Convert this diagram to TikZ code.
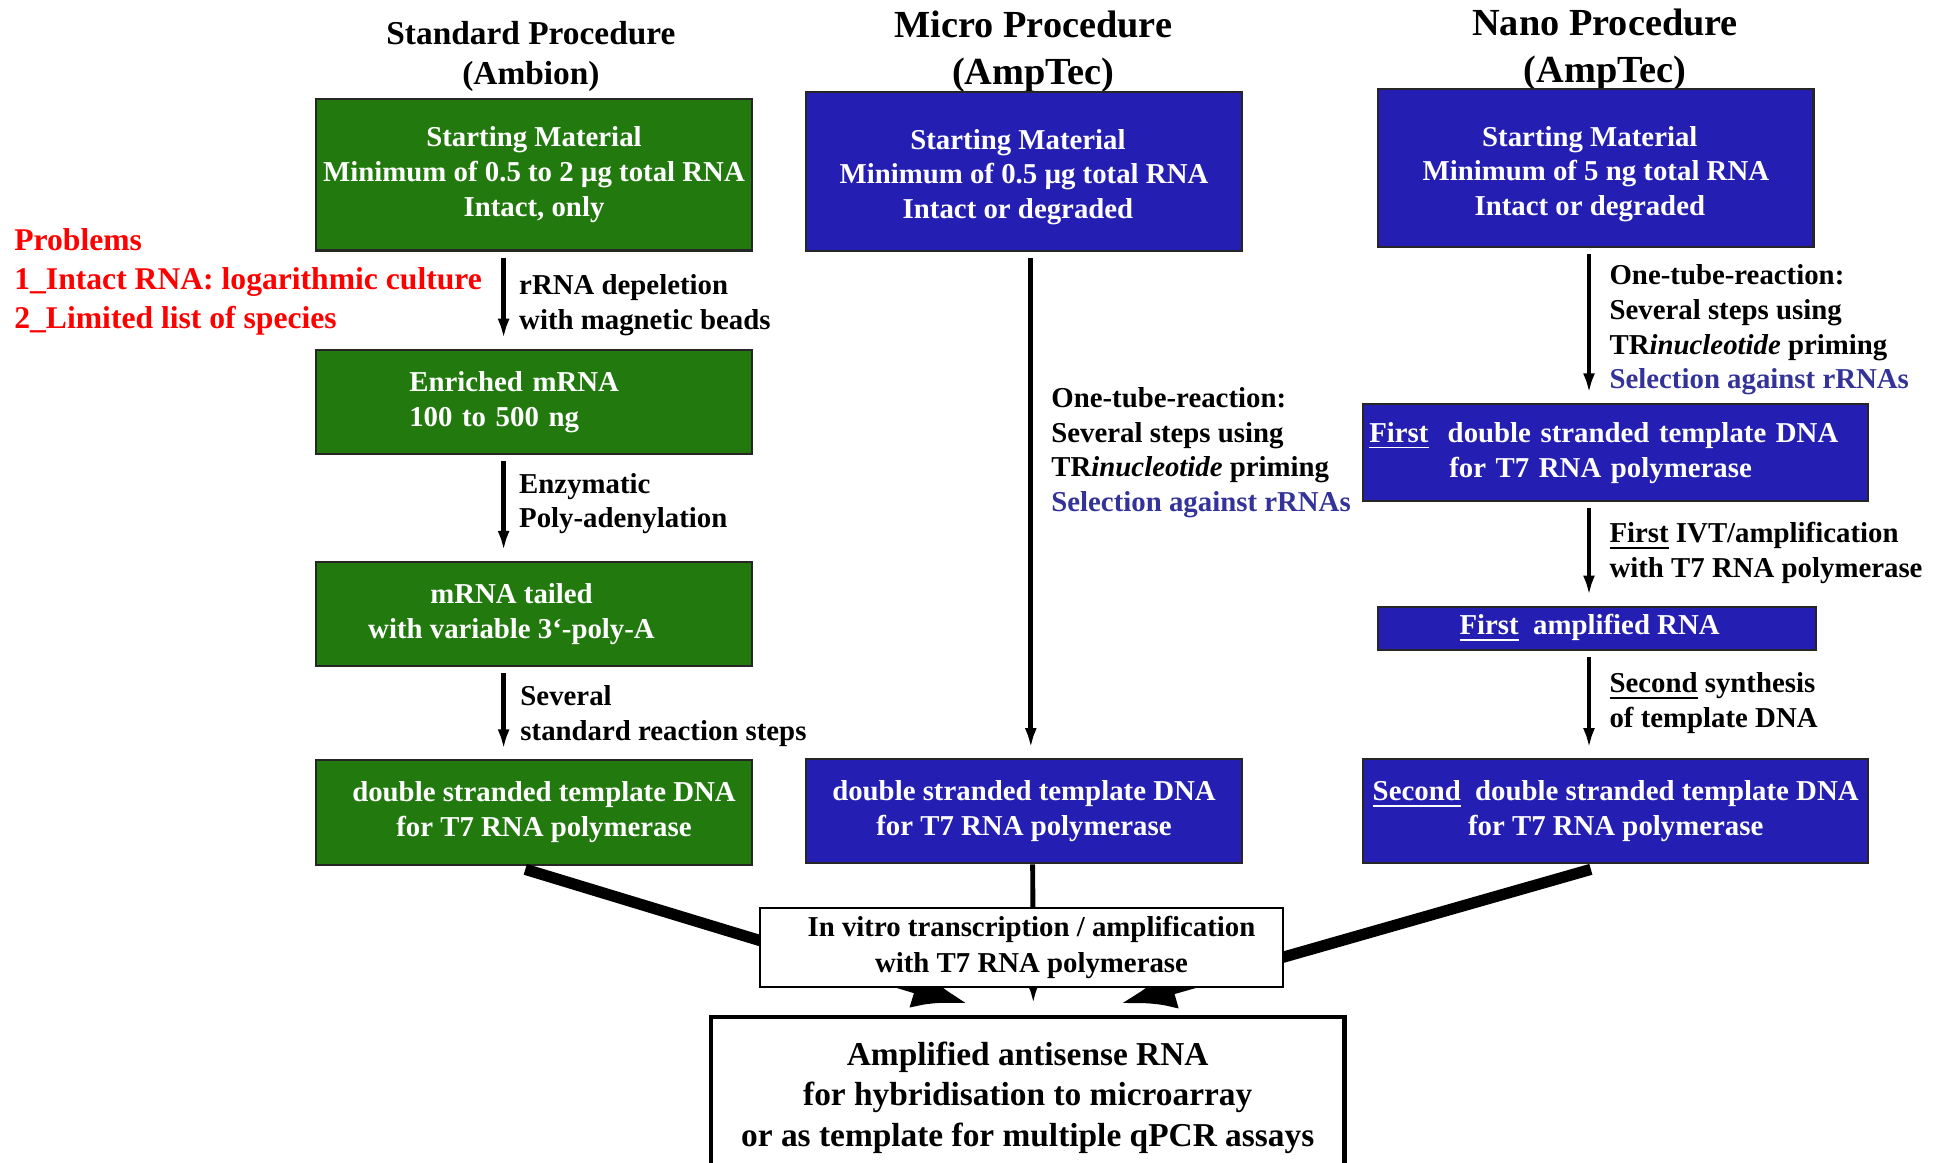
\documentclass[tikz,border=0pt]{standalone}
\usepackage{fontspec}
\setmainfont{Liberation Serif}
\usetikzlibrary{arrows.meta,calc}
\definecolor{stdgreen}{RGB}{34,122,14}
\definecolor{ampblue}{RGB}{36,30,178}
\definecolor{selblue}{RGB}{51,51,153}

\begin{document}
\begin{tikzpicture}
  [x=0.012404cm,y=-0.012404cm,
   every node/.style={font=\bfseries\fontsize{8.2}{9.9}\selectfont,inner sep=0pt},
   gbox/.style={rectangle,draw=black!85,line width=0.6pt,fill=stdgreen,text=white,align=center,minimum width=4.354cm,minimum height=1.042cm},
   bbox/.style={gbox,fill=ampblue},
   lbl/.style={anchor=west,align=left,yshift=-0.037cm},
   title/.style={align=center,yshift=-0.045cm,font=\bfseries\fontsize{10.9}{13.3}\selectfont},
   arr/.style={-{Latex[length=0.2cm,width=0.12cm]},line width=1.4pt,shorten <=0.06cm,shorten >=0.1cm},
   fat/.style={-{Latex[length=0.55cm,width=0.42cm]},line width=3.2pt}]
  \useasboundingbox (0,0) rectangle (1568,937);

  \node[title,font=\bfseries\fontsize{9.5}{11.3}\selectfont] (tstd) at (428,42) {Standard Procedure\\(Ambion)};
  \node[title] (tmicro) at (833,38) {Micro Procedure\\(AmpTec)};
  \node[title] (tnano) at (1294,36.5) {Nano Procedure\\(AmpTec)};

  \node[lbl,text=red,font=\bfseries\fontsize{9}{11.1}\selectfont] (prob) at (11,224.5) {Problems\\1\_Intact RNA: logarithmic culture\\2\_Limited list of species};

  % standard column
  \node[gbox,minimum height=1.513cm] (g1) at (430.5,141) {Starting Material\\Minimum of 0.5 to 2 µg total RNA\\Intact, only};
  \node[gbox,text width=4.354cm,align=left] (g2) at (430.5,324) {\hspace*{0.93cm}Enriched mRNA\\\hspace*{0.93cm}100 to 500 ng};
  \node[gbox] (g3) at (430.5,495) {mRNA tailed\hspace*{0.45cm}\\with variable 3‘-poly-A\hspace*{0.45cm}};
  \node[gbox] (g4) at (430.5,655) {\hspace*{0.2cm}double stranded template DNA\\\hspace*{0.2cm}for T7 RNA polymerase};

  % micro column
  \node[bbox,minimum height=1.588cm] (b1) at (825.5,138) {\rule{0pt}{9.1pt}Starting Material\hspace*{0.12cm}\\Minimum of 0.5 µg total RNA\hspace*{0.12cm}\\Intact or degraded\hspace*{0.12cm}};
  \node[bbox] (b2) at (825.5,654) {double stranded template DNA\\for T7 RNA polymerase};

  % nano column
  \node[bbox,minimum height=1.575cm] (n1) at (1286.5,135.5) {\rule{0pt}{9.1pt}Starting Material\hspace*{0.12cm}\\Minimum of 5 ng total RNA\hspace*{0.12cm}\\Intact or degraded\hspace*{0.12cm}};
  \node[bbox,minimum width=5.048cm,minimum height=0.968cm,text width=5.048cm,align=left] (n2) at (1302.5,365) {\hspace*{0.06cm}\underline{First}\ \ double stranded template DNA\\\hspace*{0.86cm}for T7 RNA polymerase};
  \node[bbox,minimum width=4.379cm,minimum height=0.434cm] (n3) at (1287.5,506.5) {\underline{First}\ \ amplified RNA\hspace*{0.15cm}};
  \node[bbox,minimum width=5.048cm] (n4) at (1302.5,654) {\underline{Second}\ \ double stranded template DNA\\for T7 RNA polymerase};

  \coordinate (gx) at (406,0);
  \coordinate (bx) at (831,0);
  \coordinate (nx) at (1281,0);

  \foreach \from/\to in {g1/g2,g2/g3,g3/g4}
    \draw[arr] (\from.south -| gx) -- (\to.north -| gx);
  \draw[arr] (b1.south -| bx) -- (b2.north -| bx);
  \foreach \from/\to in {n1/n2,n2/n3,n3/n4}
    \draw[arr] (\from.south -| nx) -- (\to.north -| nx);

  \node[lbl] (lg1) at (418,243) {rRNA depeletion\\with magnetic beads};
  \node[lbl] (lg2) at (418,403) {Enzymatic\\Poly-adenylation};
  \node[lbl] (lg3) at (419,574) {Several\\standard reaction steps};
  \node[lbl] (lb1) at (847,362) {One-tube-reaction:\\Several steps using\\TR\textit{inucleotide} priming\\\textcolor{selblue}{Selection against rRNAs}};
  \node[lbl] (ln1) at (1297,263) {One-tube-reaction:\\Several steps using\\TR\textit{inucleotide} priming\\\textcolor{selblue}{Selection against rRNAs}};
  \node[lbl] (ln2) at (1297,443) {\underline{First} IVT/amplification\\with T7 RNA polymerase};
  \node[lbl] (ln3) at (1297,564) {\underline{Second} synthesis\\of template DNA};

  \node[rectangle,draw,line width=1.3pt,fill=white,minimum width=6.338cm,minimum height=1.612cm,align=center,font=\bfseries\fontsize{9.5}{11.4}\selectfont] (amp) at (828.5,885) {Amplified antisense RNA\\for hybridisation to microarray\\or as template for multiple qPCR assays};

  \draw[fat] ($(g4.south)+(-7,3)$) -- ($(amp.north)+(-48,-9)$);
  \draw[arr,shorten <=0pt,shorten >=0pt] ($(b2.south)+(7,0)$) -- ($(amp.north)+(4.5,-9)$);
  \draw[fat] ($(n4.south)+(-20,4)$) -- ($(amp.north)+(74.5,-9)$);

  \node[rectangle,draw,line width=0.6pt,fill=white,minimum width=5.222cm,minimum height=0.794cm,align=center,font=\bfseries\fontsize{8.2}{10.2}\selectfont] (ivt) at (823.5,764) {\hspace*{0.2cm}In vitro transcription / amplification\\\hspace*{0.2cm}with T7 RNA polymerase};

\end{tikzpicture}
\end{document}
